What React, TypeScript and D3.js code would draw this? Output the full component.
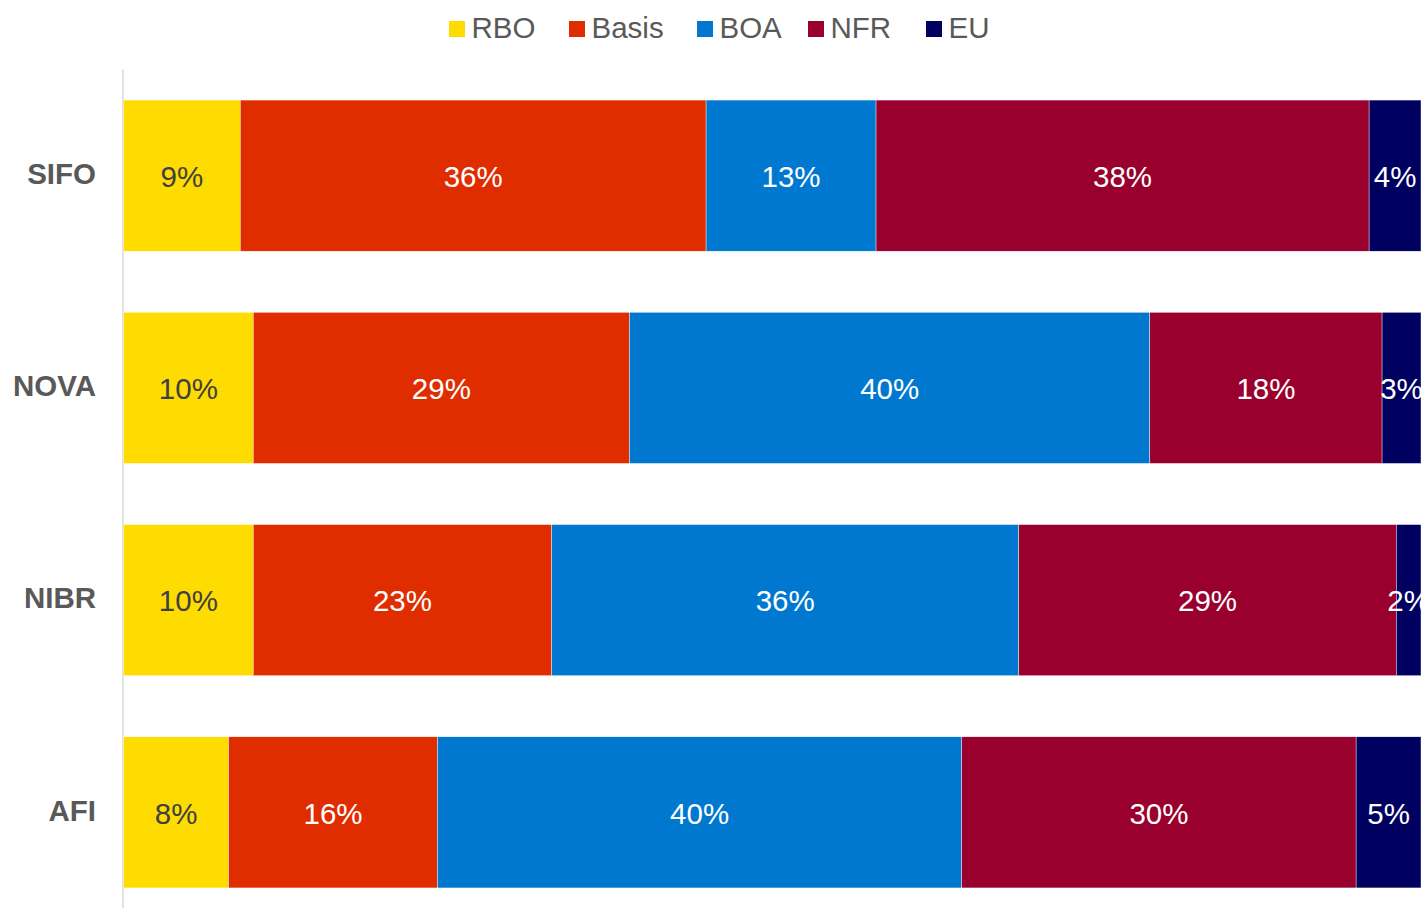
import React from "react";
import * as d3 from "d3";

const categories = ["SIFO", "NOVA", "NIBR", "AFI"];
const seriesNames = ["RBO", "Basis", "BOA", "NFR", "EU"];
const seriesColors = ["#FFDC00", "#E02D00", "#0078CF", "#99002D", "#000060"];
const rboValues = [9.0, 10.0, 10.0, 8.1];
const basisValues = [35.9, 29.0, 23.0, 16.1];
const boaValues = [13.1, 40.1, 36.0, 40.4];
const nfrValues = [38.0, 17.9, 29.1, 30.4];
const euValues = [4.0, 3.0, 1.9, 5.0];
const seriesValues = [rboValues, basisValues, boaValues, nfrValues, euValues];

const W = 1422;
const H = 908;
const FONT = "'Liberation Sans', Arial, sans-serif";

export default function App() {
  const x = d3.scaleLinear().domain([0, 100]).range([123.5, 1421]);
  const p = 0.288;
  const y = d3
    .scaleBand<string>()
    .domain(categories)
    .range([69.5, 918.5])
    .paddingInner(p)
    .paddingOuter(p / 2);

  const rows = categories.map((c, i) => {
    const obj: Record<string, number | string> = { cat: c };
    seriesNames.forEach((s, j) => (obj[s] = seriesValues[j][i]));
    return obj;
  });
  const stack = d3.stack<any>().keys(seriesNames)(rows as any);

  const legendX = [449, 569, 697, 808, 926];

  return (
    <svg
      width={W}
      height={H}
      style={{ position: "absolute", left: 0, top: 0, display: "block", background: "#fff" }}
    >
      <defs>
        <clipPath id="plotclip">
          <rect x={0} y={0} width={1421} height={H} />
        </clipPath>
      </defs>
      {/* legend */}
      {seriesNames.map((s, j) => (
        <g key={s}>
          <rect x={legendX[j]} y={21} width={16} height={16} fill={seriesColors[j]} />
          <text
            x={legendX[j] + 22.5}
            y={38}
            fontFamily={FONT}
            fontSize={29.5}
            fill="#595959"
          >
            {s}
          </text>
        </g>
      ))}
      {/* axis line */}
      <line x1={123} x2={123} y1={69.5} y2={H} stroke="#D9D9D9" strokeWidth={1.5} />
      {/* bars */}
      <g clipPath="url(#plotclip)">
        {stack.map((layer, j) => (
          <g key={seriesNames[j]}>
            {layer.map((d, i) => {
              const x0 = x(d[0]);
              const x1 = x(d[1]);
              const yy = y(categories[i])!;
              const bw = y.bandwidth();
              const v = seriesValues[j][i];
              return (
                <g key={categories[i]}>
                  <rect
                    x={x0}
                    y={yy}
                    width={x1 - x0}
                    height={bw}
                    fill={seriesColors[j]}
                    stroke="#ffffff"
                    strokeWidth={0.4}
                  />
                  <text
                    x={(x0 + x1) / 2}
                    y={yy + bw / 2 + 1}
                    dy="0.35em"
                    textAnchor="middle"
                    fontFamily={FONT}
                    fontSize={29.5}
                    fill={j === 0 ? "#404040" : "#ffffff"}
                  >
                    {Math.round(v) + "%"}
                  </text>
                </g>
              );
            })}
          </g>
        ))}
      </g>
      {/* category labels */}
      {categories.map((c) => (
        <text
          key={c}
          x={96}
          y={y(c)! + y.bandwidth() / 2 - 2}
          dy="0.35em"
          textAnchor="end"
          fontFamily={FONT}
          fontSize={29.5}
          fontWeight="bold"
          fill="#595959"
        >
          {c}
        </text>
      ))}
    </svg>
  );
}
